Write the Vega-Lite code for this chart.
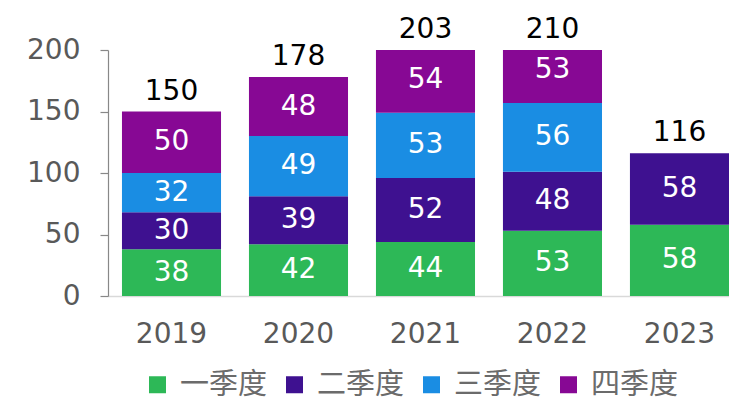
{
  "$schema": "https://vega.github.io/schema/vega-lite/v6.json",
  "width": 621,
  "height": 246,
  "autosize": {"type": "none"},
  "padding": {"left": 108, "top": 50, "right": 0, "bottom": 105},
  "background": "white",
  "config": {"view": {"stroke": null}},
  "data": {
    "values": [
      {"year": "2019", "quarter": "一季度", "qi": 1, "value": 38},
      {"year": "2019", "quarter": "二季度", "qi": 2, "value": 30},
      {"year": "2019", "quarter": "三季度", "qi": 3, "value": 32},
      {"year": "2019", "quarter": "四季度", "qi": 4, "value": 50},
      {"year": "2020", "quarter": "一季度", "qi": 1, "value": 42},
      {"year": "2020", "quarter": "二季度", "qi": 2, "value": 39},
      {"year": "2020", "quarter": "三季度", "qi": 3, "value": 49},
      {"year": "2020", "quarter": "四季度", "qi": 4, "value": 48},
      {"year": "2021", "quarter": "一季度", "qi": 1, "value": 44},
      {"year": "2021", "quarter": "二季度", "qi": 2, "value": 52},
      {"year": "2021", "quarter": "三季度", "qi": 3, "value": 53},
      {"year": "2021", "quarter": "四季度", "qi": 4, "value": 54},
      {"year": "2022", "quarter": "一季度", "qi": 1, "value": 53},
      {"year": "2022", "quarter": "二季度", "qi": 2, "value": 48},
      {"year": "2022", "quarter": "三季度", "qi": 3, "value": 56},
      {"year": "2022", "quarter": "四季度", "qi": 4, "value": 53},
      {"year": "2023", "quarter": "一季度", "qi": 1, "value": 58},
      {"year": "2023", "quarter": "二季度", "qi": 2, "value": 58}
    ]
  },
  "encoding": {
    "x": {
      "field": "year",
      "type": "nominal",
      "scale": {"paddingInner": 0.22, "paddingOuter": 0.055, "align": 1},
      "axis": {
        "title": null,
        "labelAngle": 0,
        "labelFont": "DejaVu Sans",
        "labelFontSize": 28,
        "labelColor": "#595959",
        "labelPadding": 24,
        "ticks": false,
        "domainColor": "#d9d9d9",
        "domainWidth": 1.5
      }
    }
  },
  "layer": [
    {
      "mark": {"type": "bar", "clip": true},
      "encoding": {
        "y": {
          "field": "value",
          "type": "quantitative",
          "stack": "zero",
          "scale": {"domain": [0, 200], "nice": false, "clamp": true},
          "axis": {
            "title": null,
            "values": [0, 50, 100, 150, 200],
            "grid": false,
            "labelFont": "DejaVu Sans",
            "labelFontSize": 28,
            "labelColor": "#595959",
            "labelPadding": 20,
            "tickSize": 8,
            "tickColor": "#888888",
            "domainColor": "#888888",
            "domainWidth": 1.2,
            "tickWidth": 1.2
          }
        },
        "color": {
          "field": "quarter",
          "type": "nominal",
          "scale": {
            "domain": ["一季度", "二季度", "三季度", "四季度"],
            "range": ["#2db857", "#3e1190", "#1a8de3", "#870894"]
          },
          "legend": {
            "title": null,
            "orient": "none",
            "direction": "horizontal",
            "legendX": 35,
            "legendY": 320,
            "padding": 0,
            "symbolType": "square",
            "symbolSize": 289,
            "symbolStrokeWidth": 0,
            "symbolOpacity": 1,
            "labelFont": "Noto Sans CJK SC",
            "labelFontSize": 29,
            "labelColor": "#6b6b6b",
            "labelOffset": 8,
            "columnPadding": 12
          }
        },
        "order": {"field": "qi", "type": "quantitative", "sort": "ascending"}
      }
    },
    {
      "transform": [
        {"window": [{"op": "sum", "field": "value", "as": "cum"}], "groupby": ["year"], "sort": [{"field": "qi", "order": "ascending"}], "frame": [null, 0]},
        {"calculate": "datum.cum - datum.value / 2", "as": "mid"}
      ],
      "mark": {"type": "text", "font": "DejaVu Sans", "fontSize": 28, "color": "white", "baseline": "middle", "align": "center"},
      "encoding": {
        "y": {"field": "mid", "type": "quantitative"},
        "text": {"field": "value", "type": "quantitative"}
      }
    },
    {
      "transform": [
        {"aggregate": [{"op": "sum", "field": "value", "as": "total"}], "groupby": ["year"]}
      ],
      "mark": {"type": "text", "font": "DejaVu Sans", "fontSize": 28, "color": "black", "baseline": "alphabetic", "align": "center", "dy": -12},
      "encoding": {
        "y": {"field": "total", "type": "quantitative"},
        "text": {"field": "total", "type": "quantitative"}
      }
    }
  ]
}
